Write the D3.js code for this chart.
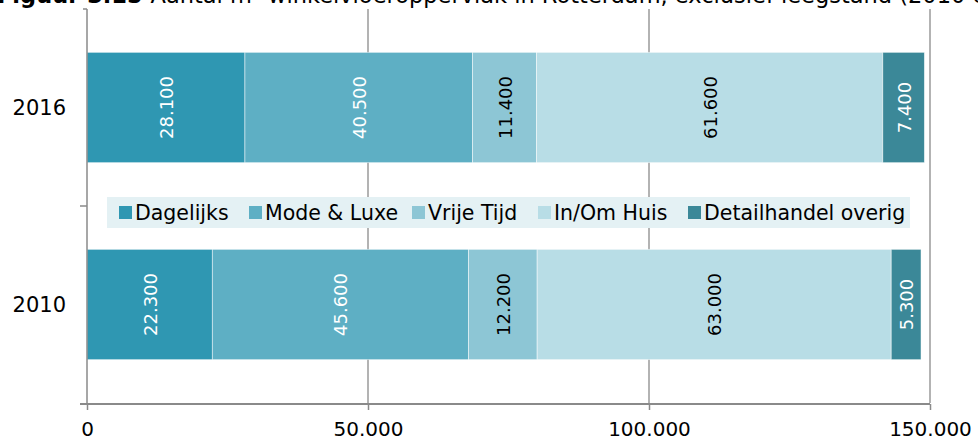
<!DOCTYPE html>
<html><head><meta charset="utf-8">
<script src="https://cdn.jsdelivr.net/npm/d3@7"></script>
<style>body{margin:0;background:#fff}svg{display:block;font-family:"DejaVu Sans",Verdana,sans-serif}</style>
</head><body>
<svg id="c" width="978" height="444"></svg>
<script>
const years = ["2016", "2010"];
const seriesNames = ["Dagelijks", "Mode & Luxe", "Vrije Tijd", "In/Om Huis", "Detailhandel overig"];
const values2016 = [28100, 40500, 11400, 61600, 7400];
const values2010 = [22300, 45600, 12200, 63000, 5300];
const xTicks = [0, 50000, 100000, 150000];
const colors = ["#2F97B2", "#5EAFC4", "#8DC6D5", "#B8DDE6", "#3B8898"];
const labelColors = ["#fff", "#fff", "#000", "#000", "#fff"];

const svg = d3.select("#c");
const fmt = v => d3.format(",")(v).replace(/,/g, ".");

const x = d3.scaleLinear().domain([0, 150000]).range([87, 930]);
const y = d3.scaleBand().domain(years).range([9, 403]).paddingInner(0.44).paddingOuter(0.22);

// title (clipped at top)
const title = svg.append("text").attr("x", -3).attr("y", 2.5).attr("font-size", 22.5).attr("fill", "#000");
title.append("tspan").attr("font-weight", "bold").text("Figuur 3.15 ");
title.append("tspan").text("Aantal m² winkelvloeroppervlak in Rotterdam, exclusief leegstand (2010 en 2016)");

// gridlines
svg.append("g").selectAll("line").data(xTicks.slice(1)).join("line")
  .attr("x1", d => x(d)).attr("x2", d => x(d)).attr("y1", 9).attr("y2", 403)
  .attr("stroke", "#8a8a8a").attr("stroke-width", 1.3);

// stacked data
const rows = years.map(yr => {
  const vals = yr === "2016" ? values2016 : values2010;
  const o = {year: yr};
  seriesNames.forEach((s, i) => o[s] = vals[i]);
  return o;
});
const stack = d3.stack().keys(seriesNames)(rows);

const g = svg.append("g");
stack.forEach((layer, i) => {
  layer.forEach(d => {
    const x0 = x(d[0]), x1 = x(d[1]);
    const yy = y(d.data.year), h = y.bandwidth();
    g.append("rect").attr("x", x0).attr("y", yy).attr("width", x1 - x0).attr("height", h)
      .attr("fill", colors[i]).attr("stroke", "rgba(255,255,255,0.6)").attr("stroke-width", 0.8);
    const cx = (x0 + x1) / 2, cy = yy + h / 2;
    g.append("text").attr("transform", `translate(${cx + 7},${cy}) rotate(-90)`)
      .attr("text-anchor", "middle").attr("font-size", 18).attr("fill", labelColors[i])
      .text(fmt(d.data[layer.key]));
  });
});

// y axis
svg.append("line").attr("x1", 87).attr("x2", 87).attr("y1", 9).attr("y2", 403)
  .attr("stroke", "#8a8a8a").attr("stroke-width", 1.5);
[[83, 9], [80, 206]].forEach(t => svg.append("line").attr("x1", t[0]).attr("x2", 87).attr("y1", t[1]).attr("y2", t[1])
  .attr("stroke", "#8a8a8a").attr("stroke-width", 1.5));
svg.append("g").selectAll("text").data(years).join("text")
  .attr("x", 66).attr("y", d => y(d) + y.bandwidth() / 2 + 7.5)
  .attr("text-anchor", "end").attr("font-size", 21).attr("fill", "#000").text(d => d);

// x axis
const xa = svg.append("g").attr("transform", "translate(0,404)")
  .call(d3.axisBottom(x).tickValues(xTicks).tickFormat(fmt).tickSize(6).tickPadding(12));
xa.select(".domain").attr("stroke", "#8a8a8a").attr("stroke-width", 2.2).attr("d", "M80,0H930");
xa.selectAll(".tick line").attr("stroke", "#8a8a8a").attr("stroke-width", 1.5);
xa.selectAll(".tick text").attr("font-size", 20).attr("fill", "#000").attr("font-family", "DejaVu Sans, Verdana, sans-serif");

// legend
const lg = svg.append("g");
lg.append("rect").attr("x", 107).attr("y", 197).attr("width", 803).attr("height", 31).attr("fill", "#E4F1F4");
const legendX = [119, 249, 412, 538, 688];
seriesNames.forEach((s, i) => {
  lg.append("rect").attr("x", legendX[i]).attr("y", 206).attr("width", 13).attr("height", 13).attr("fill", colors[i]);
  lg.append("text").attr("x", legendX[i] + 16).attr("y", 220).attr("font-size", 20.5).attr("fill", "#000").text(s);
});
</script>
</body></html>
